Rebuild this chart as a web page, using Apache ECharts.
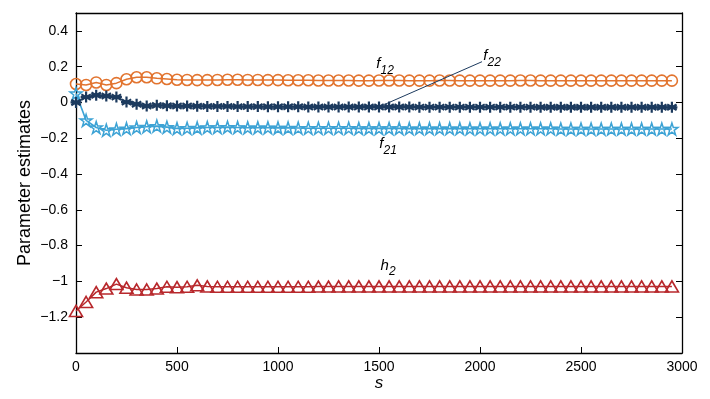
<!DOCTYPE html>
<html>
<head>
<meta charset="utf-8">
<script src="https://cdn.jsdelivr.net/npm/echarts@6/dist/echarts.min.js"></script>
<style>
html,body{margin:0;padding:0;background:#fff;}
#chart{width:710px;height:399px;}
</style>
</head>
<body>
<div id="chart"></div>
<script>
// iteration index s (markers every 50 steps)
var sValues = [];
for (var i = 0; i < 60; i++) sValues.push(i * 50);

var f12 = [0.103,0.098,0.112,0.098,0.108,0.130,0.141,0.141,0.135,0.131,0.127,0.126,0.125,0.125,0.126,0.127,0.127,0.126,0.126,0.125,
           0.125,0.124,0.124,0.124,0.123,0.123,0.123,0.123,0.122,0.122,0.123,0.123,0.123,0.122,0.122,0.122,0.123,0.123,0.122,0.122,
           0.122,0.122,0.122,0.122,0.123,0.123,0.122,0.122,0.122,0.122,0.122,0.122,0.122,0.122,0.122,0.122,0.122,0.122,0.122,0.122];
var f22 = [0.000,0.030,0.040,0.036,0.030,0.002,-0.010,-0.020,-0.016,-0.018,-0.020,-0.020,-0.021,-0.022,-0.022,-0.022,-0.023,-0.023,-0.023,-0.024,
           -0.024,-0.024,-0.024,-0.025,-0.025,-0.025,-0.025,-0.025,-0.025,-0.025,-0.025,-0.025,-0.025,-0.025,-0.026,-0.026,-0.026,-0.026,-0.026,-0.026,
           -0.026,-0.026,-0.026,-0.026,-0.026,-0.026,-0.027,-0.027,-0.027,-0.027,-0.027,-0.027,-0.027,-0.027,-0.027,-0.027,-0.027,-0.027,-0.027,-0.027];
var f21 = [0.050,-0.100,-0.140,-0.155,-0.150,-0.146,-0.140,-0.136,-0.132,-0.138,-0.145,-0.144,-0.142,-0.140,-0.140,-0.138,-0.140,-0.141,-0.141,-0.141,
           -0.142,-0.142,-0.143,-0.144,-0.144,-0.144,-0.144,-0.144,-0.145,-0.145,-0.145,-0.145,-0.145,-0.146,-0.146,-0.146,-0.146,-0.146,-0.146,-0.147,
           -0.147,-0.147,-0.147,-0.147,-0.147,-0.147,-0.147,-0.147,-0.148,-0.148,-0.148,-0.148,-0.148,-0.148,-0.148,-0.148,-0.148,-0.148,-0.148,-0.148];
var h2  = [-1.165,-1.115,-1.060,-1.040,-1.015,-1.035,-1.045,-1.045,-1.040,-1.030,-1.032,-1.030,-1.022,-1.028,-1.030,-1.030,-1.030,-1.030,-1.030,-1.030,
           -1.030,-1.030,-1.030,-1.030,-1.029,-1.029,-1.028,-1.028,-1.028,-1.028,-1.028,-1.028,-1.028,-1.028,-1.028,-1.028,-1.028,-1.028,-1.028,-1.028,
           -1.028,-1.028,-1.028,-1.028,-1.028,-1.028,-1.028,-1.028,-1.028,-1.028,-1.028,-1.028,-1.028,-1.028,-1.028,-1.028,-1.028,-1.028,-1.028,-1.028];

var yTickLabels = [-1.2,-1,-0.8,-0.6,-0.4,-0.2,0,0.2,0.4];
var xTickLabels = [0,500,1000,1500,2000,2500,3000];

function pairs(ys){ return sValues.map(function(s,i){ return [s, ys[i]]; }); }

var FONT = 'Liberation Sans, Arial, Helvetica, sans-serif';
var C_ORANGE = '#E2742F', C_NAVY = '#1C3A5E', C_LBLUE = '#3DA3D5', C_RED = '#B8282C';

var asterisk = 'path://M5,0 L5,10 M0.7,2.5 L9.3,7.5 M0.7,7.5 L9.3,2.5 M0,5 L10,5';
var pentagram = 'path://M50,0 L61.8,36.2 L100,36.2 L69.1,58.6 L80.9,95.1 L50,72.7 L19.1,95.1 L30.9,58.6 L0,36.2 L38.2,36.2 Z';

function fmtNum(v){
  var r = Math.round(v*10)/10;
  return String(r).replace('-', '\u2212');
}

var chart = echarts.init(document.getElementById('chart'));
var option = {
  backgroundColor: '#fff',
  animation: false,
  grid: {left: 76, right: 28, top: 13, bottom: 46, containLabel: false},
  xAxis: [{
    type: 'value', min: 0, max: 3000, interval: 500,
    name: 's', nameLocation: 'middle', nameGap: 22, nameMoveOverlap: false,
    nameTextStyle: {fontFamily: FONT, fontSize: 17, fontStyle: 'italic', color: '#000'},
    axisLine: {show: true, onZero: false, lineStyle: {color: '#000', width: 1.3}},
    axisTick: {show: true, inside: true, length: 6, lineStyle: {color: '#000'}},
    axisLabel: {fontFamily: FONT, fontSize: 14, color: '#000', margin: 7,
      formatter: function(v){ return xTickLabels.indexOf(v) >= 0 ? String(v) : ''; }},
    splitLine: {show: false}
  },{
    type: 'value', position: 'top', min: 0, max: 3000, interval: 500,
    axisLine: {show: true, onZero: false, lineStyle: {color: '#000', width: 1.3}},
    axisTick: {show: false}, axisLabel: {show: false}, splitLine: {show: false}
  }],
  yAxis: [{
    type: 'value', min: -1.4, max: 0.5, interval: 0.2,
    name: 'Parameter estimates', nameLocation: 'middle', nameGap: 42, nameMoveOverlap: false,
    nameTextStyle: {fontFamily: FONT, fontSize: 18, color: '#000'},
    axisLine: {show: true, onZero: false, lineStyle: {color: '#000', width: 1.3}},
    axisTick: {show: true, inside: true, length: 6, lineStyle: {color: '#000'},
      customValues: yTickLabels},
    axisLabel: {fontFamily: FONT, fontSize: 14, color: '#000', margin: 8,
      customValues: yTickLabels, formatter: function(v){ return fmtNum(v); }},
    splitLine: {show: false}
  },{
    type: 'value', position: 'right', min: -1.4, max: 0.5, interval: 0.2,
    axisLine: {show: true, onZero: false, lineStyle: {color: '#000', width: 1.3}},
    axisTick: {show: true, inside: true, length: 6, lineStyle: {color: '#000'},
      customValues: yTickLabels},
    axisLabel: {show: false}, splitLine: {show: false}
  }],
  series: [
    {name: 'f12', type: 'line', data: pairs(f12), showAllSymbol: true,
     symbol: 'circle', symbolSize: 11,
     itemStyle: {color: 'rgba(0,0,0,0)', borderColor: C_ORANGE, borderWidth: 1.6},
     lineStyle: {color: C_ORANGE, width: 1.5}, z: 2},
    {name: 'f22', type: 'line', data: pairs(f22), showAllSymbol: true,
     symbol: asterisk, symbolSize: 11,
     itemStyle: {color: 'rgba(0,0,0,0)', borderColor: C_NAVY, borderWidth: 2.2},
     lineStyle: {color: C_NAVY, width: 1.6}, z: 3},
    {name: 'f21', type: 'line', data: pairs(f21), showAllSymbol: true,
     symbol: pentagram, symbolSize: 12,
     itemStyle: {color: 'rgba(0,0,0,0)', borderColor: C_LBLUE, borderWidth: 1.5},
     lineStyle: {color: C_LBLUE, width: 1.6}, z: 2},
    {name: 'h2', type: 'line', data: pairs(h2), showAllSymbol: true,
     symbol: 'triangle', symbolSize: [13, 11],
     itemStyle: {color: 'rgba(0,0,0,0)', borderColor: C_RED, borderWidth: 1.6},
     lineStyle: {color: C_RED, width: 1.5}, z: 2}
  ]
};
chart.setOption(option);

// annotations placed in data coordinates
var annotations = [
  {name: 'f', sub: '12', s: 1530, v: 0.20},
  {name: 'f', sub: '22', s: 2060, v: 0.245},
  {name: 'f', sub: '21', s: 1545, v: -0.245},
  {name: 'h', sub: '2',  s: 1545, v: -0.925}
];
var leaderFrom = [2010, 0.228], leaderTo = [1530, -0.01];

var g = annotations.map(function(a){
  var p = chart.convertToPixel({xAxisIndex: 0, yAxisIndex: 0}, [a.s, a.v]);
  return {
    type: 'text', x: p[0], y: p[1],
    style: {
      text: '{m|' + a.name + '}{s|' + a.sub + '}',
      rich: {
        m: {fontFamily: FONT, fontSize: 15, fontStyle: 'italic', fill: '#000', verticalAlign: 'top'},
        s: {fontFamily: FONT, fontSize: 12, fontStyle: 'italic', fill: '#000', padding: [8, 0, 0, 0], verticalAlign: 'top'}
      },
      align: 'center', verticalAlign: 'middle'
    }
  };
});
var p1 = chart.convertToPixel({xAxisIndex: 0, yAxisIndex: 0}, leaderFrom);
var p2 = chart.convertToPixel({xAxisIndex: 0, yAxisIndex: 0}, leaderTo);
g.push({type: 'line', shape: {x1: p1[0], y1: p1[1], x2: p2[0], y2: p2[1]},
        style: {stroke: C_NAVY, lineWidth: 1}, z: 10});
chart.setOption({graphic: g});
</script>
</body>
</html>
